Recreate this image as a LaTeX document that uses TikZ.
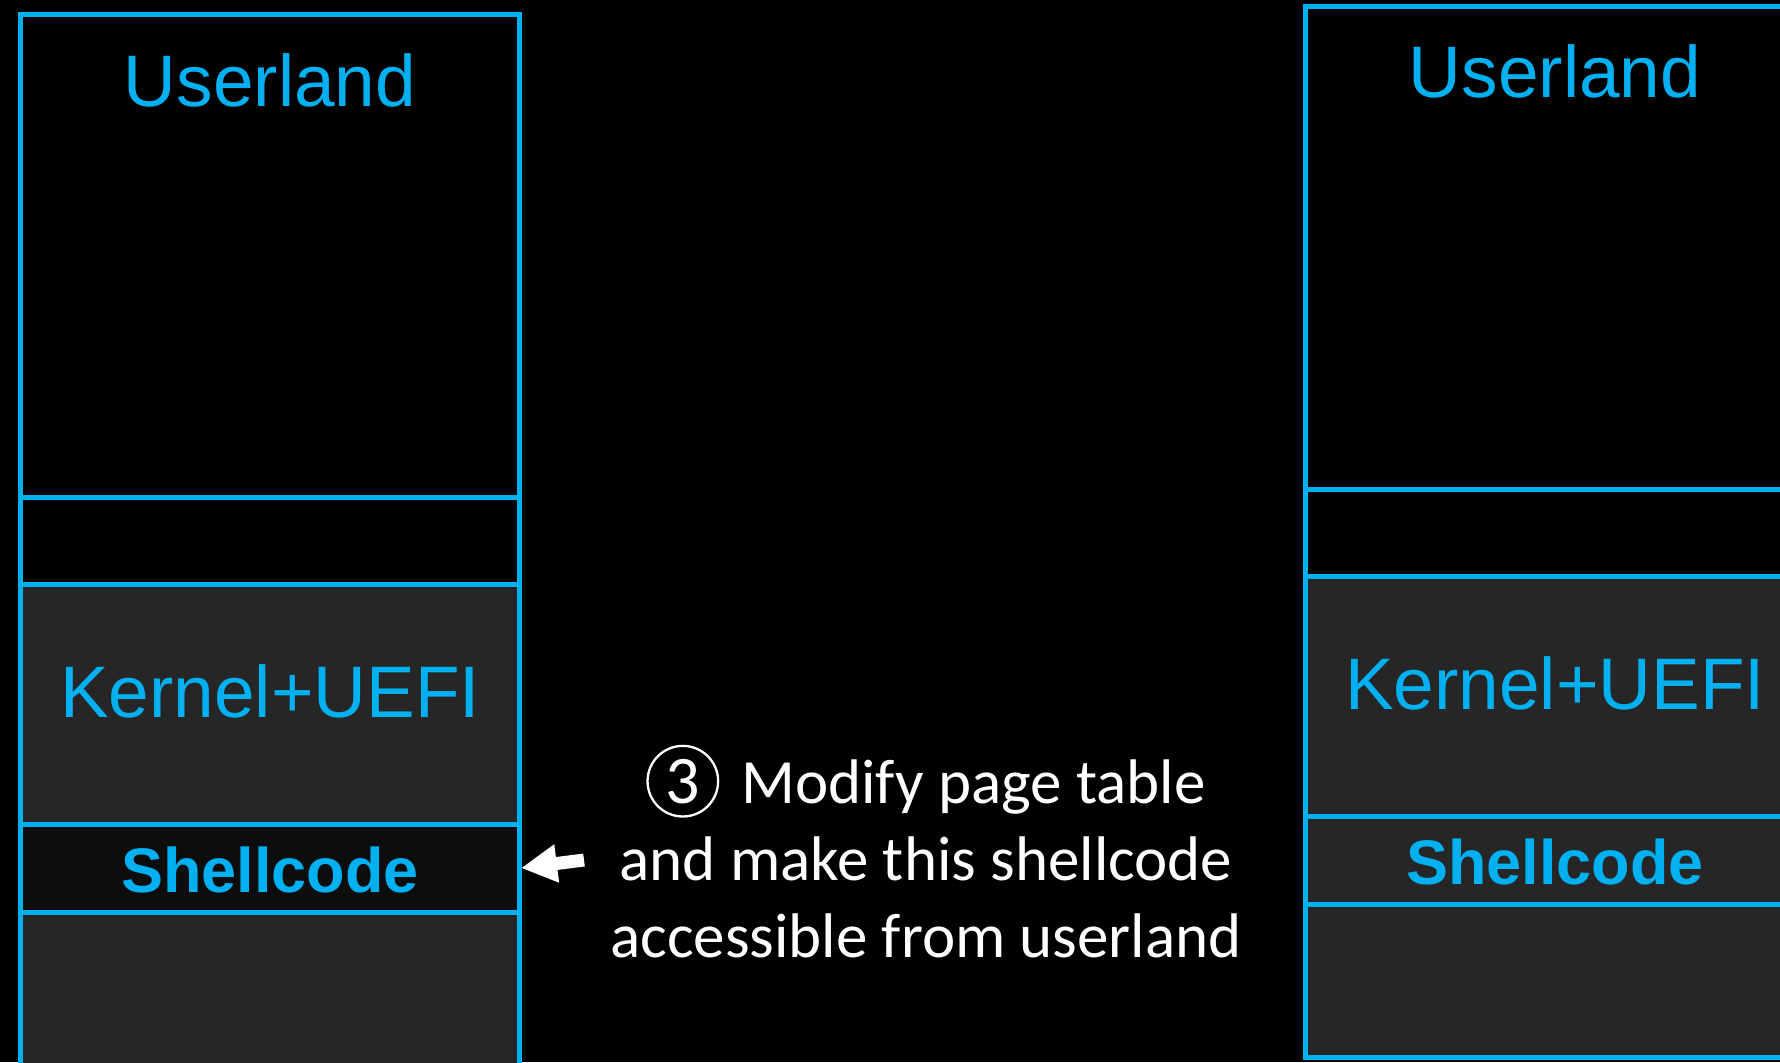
\documentclass[tikz,border=0pt]{standalone}
\usepackage{fontspec}
\setmainfont{Carlito}
\newfontfamily\arialfont{Liberation Sans}
\usetikzlibrary{positioning,arrows.meta}

\definecolor{memblue}{RGB}{0,176,240}
\definecolor{memgray}{RGB}{38,38,38}
\definecolor{memdark}{RGB}{13,13,13}

% circled step number
\newcommand{\stepnum}[1]{\tikz[baseline=(sn.base)] \node[circle, draw=white, line width=1.15pt, inner sep=0pt, minimum size=35.3pt, font=\fontsize{34}{34}\selectfont] (sn) {#1};}

\tikzset{
  cell/.style={draw=memblue, line width=2.5pt, rectangle, inner sep=0pt, outer sep=0pt, minimum width=249.5pt},
  region/.style={text=memblue, font=\arialfont\fontsize{36.5}{36.5}\selectfont, anchor=base},
  shelllbl/.style={text=memblue, font=\arialfont\bfseries\fontsize{31.5}{31.5}\selectfont, anchor=base},
  note/.style={text=white, align=center, font=\fontsize{31.5}{38.5}\selectfont},
  ptr/.style={white, line width=6.5pt, -{Triangle[length=18pt,width=18pt]}}
}

\begin{document}
\begin{tikzpicture}[x=0.5pt, y=-0.5pt]
  \fill[black] (0,0) rectangle (1780,1062);
  \useasboundingbox (0,0) rectangle (1780,1062);

  % memory map, before
  \node[cell, fill=black, minimum height=241.5pt, anchor=north west] (luser) at (20,14) {};
  \node[cell, fill=black, minimum height=43.5pt, below=0pt of luser] (lgap) {};
  \node[cell, fill=memgray, minimum height=120pt, below=0pt of lgap] (lkern) {};
  \node[cell, fill=memdark, minimum height=44pt, below=0pt of lkern] (lshell) {};
  \node[cell, fill=memgray, minimum height=76.5pt, below=0pt of lshell] (llow) {};
  \node[region] (lusertext) at (270,106) {Userland};
  \node[region] (lkerntext) at (270,717) {Kernel+UEFI};
  \node[shelllbl] (lshelltext) at (270,892) {Shellcode};

  % memory map, after
  \node[cell, fill=black, minimum height=241.5pt, anchor=north west] (ruser) at (1305,6) {};
  \node[cell, fill=black, minimum height=43.5pt, below=0pt of ruser] (rgap) {};
  \node[cell, fill=memgray, minimum height=120pt, below=0pt of rgap] (rkern) {};
  \node[cell, fill=memgray, minimum height=44pt, below=0pt of rkern] (rshell) {};
  \node[cell, fill=memgray, minimum height=76.5pt, below=0pt of rshell] (rlow) {};
  \node[region] (rusertext) at (1555,97) {Userland};
  \node[region] (rkerntext) at (1555,709) {Kernel+UEFI};
  \node[shelllbl] (rshelltext) at (1555,884) {Shellcode};

  % step 3 (base = last line)
  \node[note, anchor=base] (note) at (926,957)
    {\stepnum{3}\hspace{11pt}Modify page table\\and make this shellcode\\accessible from userland};
  \coordinate (arrtail) at (584,860);
  \draw[ptr] (arrtail) -- ([xshift=1pt]lshell.east);
\end{tikzpicture}
\end{document}
